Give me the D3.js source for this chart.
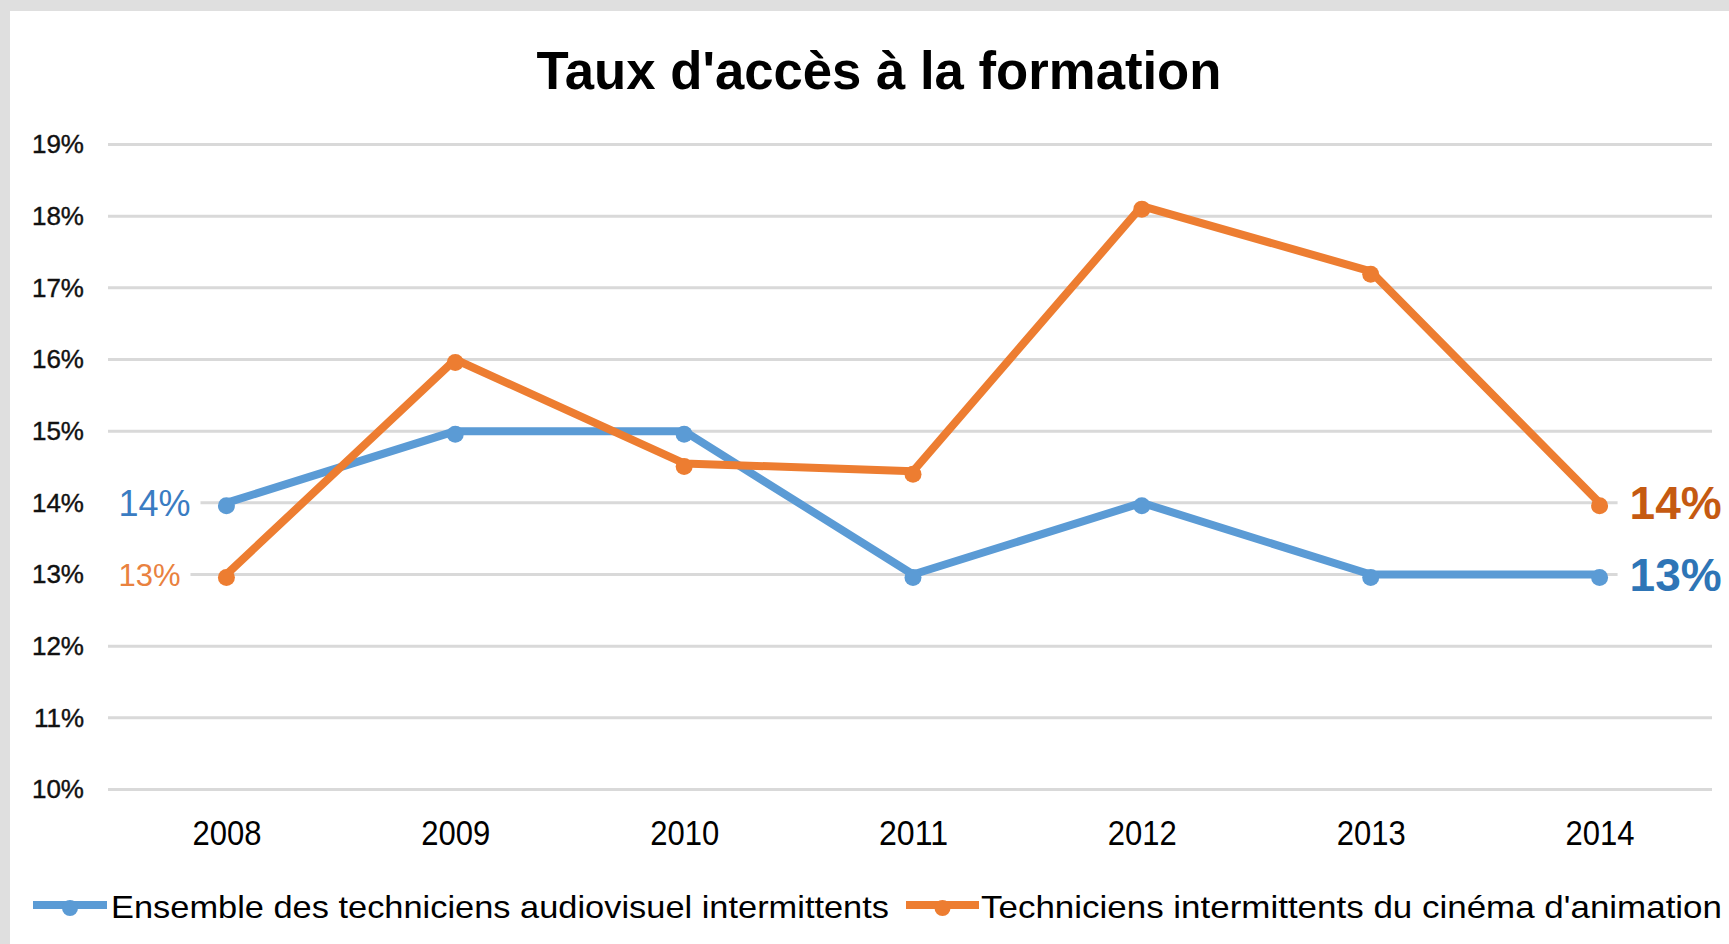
<!DOCTYPE html>
<html>
<head>
<meta charset="utf-8">
<script src="https://d3js.org/d3.v7.min.js"></script>
<style>
  body { margin: 0; background: #fff; }
  svg { display: block; font-family: "Liberation Sans", Arial, sans-serif; }
</style>
</head>
<body>
<script>
// Chart data
const years = ["2008", "2009", "2010", "2011", "2012", "2013", "2014"];
const ensemble = [14, 15, 15, 13, 14, 13, 13];          // Ensemble des techniciens audiovisuel intermittents
const animation = [13, 16, 14.55, 14.44, 18.14, 17.23, 14]; // Techniciens intermittents du cinéma d'animation
const yTicks = [10, 11, 12, 13, 14, 15, 16, 17, 18, 19];
const seriesNames = ["Ensemble des techniciens audiovisuel intermittents", "Techniciens intermittents du cinéma d'animation"];
const seriesColors = ["#5b9bd5", "#ed7d31"];

const width = 1729;
const height = 944;

const svg = d3.select("body").append("svg")
  .attr("width", width)
  .attr("height", height);

// grey frame on top and left
svg.append("rect").attr("x", 0).attr("y", 0).attr("width", width).attr("height", 11).attr("fill", "#dfdfdf");
svg.append("rect").attr("x", 0).attr("y", 0).attr("width", 10).attr("height", height).attr("fill", "#dfdfdf");

// title
svg.append("text")
  .attr("x", 879)
  .attr("y", 89)
  .attr("text-anchor", "middle")
  .attr("font-size", 54)
  .attr("font-weight", "bold")
  .attr("textLength", 685)
  .attr("lengthAdjust", "spacingAndGlyphs")
  .attr("fill", "#000")
  .text("Taux d'accès à la formation");

const gridLeft = 108, gridRight = 1712;

const x = d3.scalePoint()
  .domain(years)
  .range([112, 1714])
  .padding(0.5);

const y = d3.scaleLinear()
  .domain([10, 19])
  .range([789.5, 144.5]);

// gridlines
const grid = svg.append("g");
grid.selectAll("line")
  .data(yTicks)
  .join("line")
  .attr("x1", gridLeft)
  .attr("x2", gridRight)
  .attr("y1", d => y(d))
  .attr("y2", d => y(d))
  .attr("stroke", "#d9d9d9")
  .attr("stroke-width", 3);

// y axis labels
const yAxis = d3.axisLeft(y)
  .tickValues(yTicks)
  .tickSize(0)
  .tickPadding(0)
  .tickFormat(d => d + "%");
svg.append("g")
  .attr("transform", "translate(84,0)")
  .call(yAxis)
  .call(g => g.select(".domain").remove())
  .selectAll("text")
  .attr("font-family", "Liberation Sans, Arial, sans-serif")
  .attr("font-size", 26)
  .attr("stroke", "#111")
  .attr("stroke-width", 0.4)
  .attr("fill", "#111");

// x axis labels
const xAxis = d3.axisBottom(x).tickSize(0).tickPadding(0);
svg.append("g")
  .attr("transform", "translate(0,820)")
  .call(xAxis)
  .call(g => g.select(".domain").remove())
  .selectAll("text")
  .attr("font-family", "Liberation Sans, Arial, sans-serif")
  .attr("font-size", 35)
  .attr("dy", "0.71em")
  .attr("textLength", 69)
  .attr("lengthAdjust", "spacingAndGlyphs")
  .attr("fill", "#000");

// data labels (drawn with white background that hides the gridlines)
const labels = [
  { series: 0, i: 0, side: "left", size: 36, weight: "normal", color: "#3a7cc2" },
  { series: 1, i: 0, side: "left", size: 31, weight: "normal", color: "#e9823f" },
  { series: 1, i: 6, side: "right", size: 46, weight: "bold", color: "#c55a11" },
  { series: 0, i: 6, side: "right", size: 46, weight: "bold", color: "#2e75b6" }
];
const allSeries = [ensemble, animation];
const labelLayer = svg.append("g");

// lines
const line = d3.line()
  .x((d, i) => x(years[i]))
  .y(d => y(d));

allSeries.forEach((values, s) => {
  svg.append("path")
    .datum(values)
    .attr("fill", "none")
    .attr("stroke", seriesColors[s])
    .attr("stroke-width", 8)
    .attr("stroke-linejoin", "round")
    .attr("d", line);

  svg.append("g")
    .selectAll("circle")
    .data(values)
    .join("circle")
    .attr("cx", (d, i) => x(years[i]))
    .attr("cy", d => y(d) + 3)
    .attr("r", 8.5)
    .attr("fill", seriesColors[s]);
});

labels.forEach(l => {
  const v = allSeries[l.series][l.i];
  const px = x(years[l.i]);
  const t = labelLayer.append("text")
    .attr("x", l.side === "left" ? px - 108 : px + 30)
    .attr("y", y(v))
    .attr("dy", "0.36em")
    .attr("text-anchor", "start")
    .attr("font-size", l.size)
    .attr("font-weight", l.weight)
    .attr("fill", l.color)
    .text(Math.round(v) + "%");
  const b = t.node().getBBox();
  const x0 = l.side === "left" ? gridLeft : b.x - 12;
  labelLayer.insert("rect", "text")
    .attr("x", x0)
    .attr("y", b.y)
    .attr("width", b.x + b.width + 10 - x0)
    .attr("height", b.height)
    .attr("fill", "#fff");
});

// legend
const legend = [
  { x1: 33, x2: 107, tx: 111, tl: 778 },
  { x1: 906, x2: 979, tx: 981, tl: 741 }
];
legend.forEach((lg, s) => {
  const g = svg.append("g");
  g.append("line")
    .attr("x1", lg.x1).attr("x2", lg.x2)
    .attr("y1", 905).attr("y2", 905)
    .attr("stroke", seriesColors[s])
    .attr("stroke-width", 8);
  g.append("circle")
    .attr("cx", (lg.x1 + lg.x2) / 2)
    .attr("cy", 908)
    .attr("r", 8)
    .attr("fill", seriesColors[s]);
  g.append("text")
    .attr("x", lg.tx)
    .attr("y", 918)
    .attr("font-size", 32)
    .attr("textLength", lg.tl)
    .attr("lengthAdjust", "spacingAndGlyphs")
    .attr("fill", "#000")
    .text(seriesNames[s]);
});
</script>
</body>
</html>
